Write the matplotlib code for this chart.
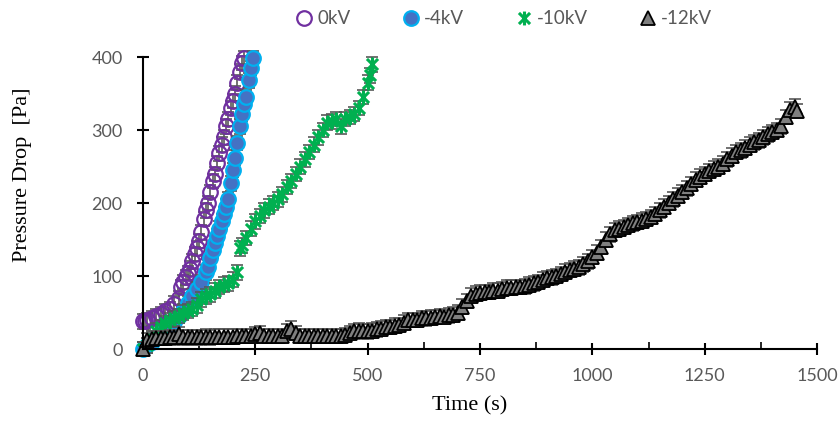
import numpy as np
import matplotlib
matplotlib.use('Agg')
import matplotlib.pyplot as plt
from matplotlib.path import Path
from matplotlib.lines import Line2D

# 0kV
t_0kv = [0, 5, 10, 20, 30, 40, 50, 60, 70, 80, 85, 90, 95, 100, 105, 110, 115, 120, 125,
         130, 135, 140, 145, 150, 155, 160, 165, 170, 175, 180, 185, 190, 195, 200, 205,
         210, 215, 220, 225]
p_0kv = [38, 38, 40, 42, 45, 48, 52, 55, 62, 70, 85, 92, 98, 104, 110, 120, 130, 138, 148,
         160, 178, 190, 200, 215, 230, 240, 255, 268, 280, 290, 305, 315, 330, 340, 350,
         365, 380, 392, 398]

# -4kV
t_4kv = [0, 10, 20, 30, 40, 50, 60, 70, 80, 90, 100, 110, 120, 130, 140, 145, 150, 155,
         160, 165, 170, 175, 180, 185, 190, 195, 200, 205, 210, 215, 220, 225, 230, 235,
         240, 245]
p_4kv = [0, 5, 10, 15, 20, 25, 30, 37, 45, 52, 63, 72, 82, 92, 105, 112, 125, 135,
         145, 155, 165, 175, 185, 195, 205, 227, 245, 262, 282, 305, 322, 335, 345, 368,
         385, 398]

# -10kV
t_10kv = [0, 10, 20, 30, 40, 50, 60, 70, 80, 90, 100, 110, 120, 130, 140, 150, 160, 170,
          180, 190, 200, 210, 215, 220, 230, 240, 250, 260, 270, 280, 290, 300, 310, 320,
          330, 340, 350, 360, 370, 380, 390, 400, 410, 420, 430, 440, 450, 460, 470, 480,
          490, 500, 505, 510]
p_10kv = [0, 5, 15, 25, 30, 35, 40, 42, 45, 50, 52, 55, 60, 68, 72, 75, 80, 85,
          88, 90, 95, 105, 138, 142, 152, 165, 175, 182, 190, 195, 200, 205, 212, 222,
          230, 240, 250, 260, 270, 280, 290, 300, 310, 312, 315, 305, 315, 318, 322, 330,
          345, 365, 375, 390]

# -12kV
t_12kv = [0, 10, 20, 30, 40, 50, 60, 70, 80, 90, 100, 110, 120, 130, 140, 150, 160, 170,
          180, 190, 200, 210, 220, 230, 240, 250, 260, 270, 280, 290, 300, 310, 320, 330,
          340, 350, 360, 370, 380, 390, 400, 410, 420, 430, 440, 450, 460, 470, 480, 490,
          500, 510, 520, 530, 540, 550, 560, 570, 580, 590, 600, 610, 620, 630, 640, 650,
          660, 670, 680, 690, 700, 710, 720, 730, 740, 750, 760, 770, 780, 790, 800, 810,
          820, 830, 840, 850, 860, 870, 880, 890, 900, 910, 920, 930, 940, 950, 960, 970,
          980, 990, 1000, 1010, 1020, 1030, 1040, 1050, 1060, 1070, 1080, 1090, 1100,
          1110, 1120, 1130, 1140, 1150, 1160, 1170, 1180, 1190, 1200, 1210, 1220, 1230,
          1240, 1250, 1260, 1270, 1280, 1290, 1300, 1310, 1320, 1330, 1340, 1350, 1360,
          1370, 1380, 1390, 1400, 1410, 1420, 1430, 1440, 1450, 1455]
p_12kv = [0, 12, 14, 15, 15, 15, 16, 16, 20, 16, 16, 16, 16, 16, 17, 16, 17, 17,
          17, 17, 17, 18, 18, 18, 18, 20, 22, 18, 18, 18, 18, 18, 24, 28,
          22, 18, 18, 18, 18, 18, 18, 18, 18, 18, 18, 19, 22, 24, 25, 24,
          24, 25, 27, 28, 30, 30, 32, 33, 36, 40, 40, 40, 42, 42, 43, 44,
          45, 44, 46, 47, 50, 58, 66, 73, 76, 77, 78, 78, 80, 80, 82, 84,
          84, 85, 85, 86, 88, 90, 92, 95, 97, 98, 100, 103, 106, 108, 110, 112,
          116, 120, 126, 132, 140, 150, 157, 163, 165, 167, 170, 172, 174,
          176, 178, 181, 185, 190, 195, 200, 205, 210, 215, 220, 226, 232,
          236, 240, 244, 247, 250, 254, 260, 265, 270, 272, 276, 280, 283,
          286, 290, 294, 297, 300, 305, 318, 328, 332, 326]

err = 10

# Excel style asterisk marker
star = Path([(0, -1), (0, 1), (-0.8, -0.8), (0.8, 0.8), (-0.8, 0.8), (0.8, -0.8)],
            [Path.MOVETO, Path.LINETO, Path.MOVETO, Path.LINETO, Path.MOVETO, Path.LINETO])

styles = [
    ('0kV', t_0kv, p_0kv, dict(marker='o', ms=10.5, mfc='none', mec='#7030A0', mew=1.6)),
    ('-4kV', t_4kv, p_4kv, dict(marker='o', ms=10.5, mfc='#4472C4', mec='#00B0F0', mew=1.6)),
    ('-10kV', t_10kv, p_10kv, dict(marker=star, ms=10, mfc='#00B050', mec='#00B050', mew=2.2)),
    ('-12kV', t_12kv, p_12kv, dict(marker='^', ms=10.5, mfc='#7F7F7F', mec='black', mew=1.3)),
]

fig = plt.figure(figsize=(8.38, 4.21), dpi=100)
ax = fig.add_axes([0.1706, 0.171, 0.8044, 0.6936])

handles = []
for name, t, p, st in styles:
    ax.errorbar(t, p, yerr=err, fmt='none', ecolor='#595959', elinewidth=1.2,
                capsize=4.5, capthick=1.2, clip_on=False)
    ax.plot(t, p, linestyle='none', clip_on=False, **st)
    handles.append(Line2D([], [], linestyle='none', label=name, **st))

ax.set_xlim(0, 1500)
ax.set_ylim(0, 400)
ax.set_xticks([0, 250, 500, 750, 1000, 1250, 1500])
ax.set_xticks([125, 375, 625, 875, 1125, 1375], minor=True)
ax.set_yticks([0, 100, 200, 300, 400])

for s in ['top', 'right']:
    ax.spines[s].set_visible(False)
for s in ['left', 'bottom']:
    ax.spines[s].set_linewidth(1.5)

ax.tick_params(which='major', direction='inout', length=9, width=1.5,
               labelsize=13, labelcolor='#595959')
ax.tick_params(axis='x', which='major', pad=9)
ax.tick_params(axis='y', which='major', pad=10)
ax.tick_params(axis='x', which='minor', direction='in', length=5, width=1.2)
for lab in ax.get_xticklabels() + ax.get_yticklabels():
    lab.set_family('Lato')

ax.set_xlabel('Time (s)', family='Liberation Serif', fontsize=16)
ax.set_ylabel('Pressure Drop  [Pa]', family='Liberation Serif', fontsize=16)
ax.xaxis.set_label_coords(0.485, -0.161)
ax.yaxis.set_label_coords(-0.165, 0.596)

fig.legend(handles=handles, loc='center', bbox_to_anchor=(0.6, 0.955), ncol=4,
           frameon=False, handletextpad=0.1, columnspacing=2.6, handlelength=1.2,
           prop={'family': 'Lato', 'size': 13.5}, labelcolor='#595959')

fig.savefig('out.png', dpi=100)
